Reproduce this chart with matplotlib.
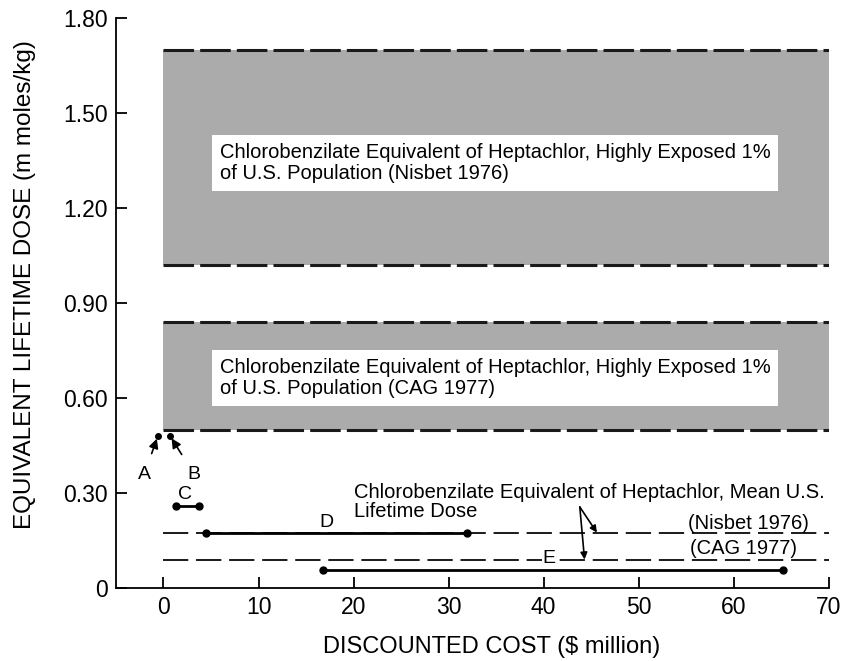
import numpy as np
import matplotlib
matplotlib.use('Agg')
import matplotlib.pyplot as plt

plt.rcParams['font.family'] = ['Liberation Sans', 'DejaVu Sans']

# 数据：剂量带 (mmoles/kg)
band_low = [1.02, 0.50]
band_high = [1.70, 0.84]
band_text = ['Chlorobenzilate Equivalent of Heptachlor, Highly Exposed 1%\nof U.S. Population (Nisbet 1976)',
             'Chlorobenzilate Equivalent of Heptachlor, Highly Exposed 1%\nof U.S. Population (CAG 1977)']
band_text_y = [1.342, 0.663]
band_x = [0, 70]

# 平均终身剂量
mean_dose = [0.175, 0.09]
mean_names = ['(Nisbet 1976)', '(CAG 1977)']

# 单点方案 A, B
pt_names = ['A', 'B']
pt_cost = [-0.6, 0.7]
pt_dose = [0.48, 0.48]

# 成本区间方案 C, D, E
rng_names = ['C', 'D', 'E']
rng_lo = [1.3, 4.5, 16.8]
rng_hi = [3.7, 31.9, 65.2]
rng_dose = [0.26, 0.175, 0.057]

yticks = [0, 0.30, 0.60, 0.90, 1.20, 1.50, 1.80]
ytick_labels = ['0', '0.30', '0.60', '0.90', '1.20', '1.50', '1.80']
xticks = [0, 10, 20, 30, 40, 50, 60, 70]

fs = 14.5

fig = plt.figure(figsize=(8.44, 6.61), dpi=100)
ax = fig.add_axes([0.1374, 0.1104, 0.8446, 0.8624])
ax.set_xlim(-5, 70)
ax.set_ylim(0, 1.80)

# 阴影带
for lo, hi, txt, ty in zip(band_low, band_high, band_text, band_text_y):
    ax.fill_between(band_x, lo, hi, color='#ababab', lw=0, zorder=1)
    for yy in (lo, hi):
        ax.plot(band_x, [yy, yy], color='#1a1a1a', lw=2.2, ls=(0, (10, 2)), zorder=2)
    ax.text(5.9, ty, txt, fontsize=fs, va='center', ha='left', linespacing=1.1,
            bbox=dict(facecolor='white', edgecolor='none', boxstyle='square,pad=0.4'), zorder=3)

# 平均剂量虚线
for yy in mean_dose:
    ax.plot(band_x, [yy, yy], color='#1a1a1a', lw=1.4, ls=(0, (13, 4)), zorder=2)
ax.text(61.5, 0.205, mean_names[0], fontsize=fs, ha='center', va='center')
ax.text(61.0, 0.125, mean_names[1], fontsize=fs, ha='center', va='center')

ax.text(20, 0.303, 'Chlorobenzilate Equivalent of Heptachlor, Mean U.S.',
        fontsize=fs, ha='left', va='center')
ax.text(20, 0.243, 'Lifetime Dose', fontsize=fs, ha='left', va='center')
ax.annotate('', xy=(45.6, mean_dose[0]), xytext=(43.8, 0.256),
            arrowprops=dict(arrowstyle='-|>', color='black', lw=1.2, shrinkA=0, shrinkB=0))
ax.annotate('', xy=(44.3, mean_dose[1]), xytext=(43.8, 0.256),
            arrowprops=dict(arrowstyle='-|>', color='black', lw=1.2, shrinkA=0, shrinkB=0))

# 点 A, B
ax.plot(pt_cost, pt_dose, 'o', color='black', ms=4, zorder=4)
ax.annotate(pt_names[0], xy=(pt_cost[0], pt_dose[0]), xytext=(-2.0, 0.36), fontsize=14,
            ha='center', va='center',
            arrowprops=dict(arrowstyle='-|>', color='black', lw=1.2, shrinkA=7, shrinkB=2))
ax.annotate(pt_names[1], xy=(pt_cost[1], pt_dose[1]), xytext=(3.2, 0.36), fontsize=14,
            ha='center', va='center',
            arrowprops=dict(arrowstyle='-|>', color='black', lw=1.2, shrinkA=7, shrinkB=2))

# 区间 C, D, E
lbl_pos = [(2.3, 0.294), (17.1, 0.208), (40.6, 0.092)]
for name, lo, hi, yy, (lx, ly) in zip(rng_names, rng_lo, rng_hi, rng_dose, lbl_pos):
    ax.plot([lo, hi], [yy, yy], color='black', lw=2, marker='o', ms=5, zorder=4)
    bb = dict(facecolor='white', edgecolor='none', pad=0.5) if name == 'E' else None
    ax.text(lx, ly, name, fontsize=14, ha='center', va='center', bbox=bb, zorder=5)

ax.spines['top'].set_visible(False)
ax.spines['right'].set_visible(False)
ax.spines['left'].set_linewidth(1.3)
ax.spines['bottom'].set_linewidth(1.3)
ax.set_yticks(yticks)
ax.set_yticklabels(ytick_labels)
ax.set_xticks(xticks)
ax.tick_params(axis='both', direction='in', length=8, width=1.3, labelsize=16.5, pad=6)

ax.set_xlabel('DISCOUNTED COST ($ million)', fontsize=17)
ax.xaxis.set_label_coords(0.527, -0.085)
ax.set_ylabel('EQUIVALENT LIFETIME DOSE (m moles/kg)', fontsize=17.5)
ax.yaxis.set_label_coords(-0.112, 0.533)

plt.savefig('out.png', dpi=100)
